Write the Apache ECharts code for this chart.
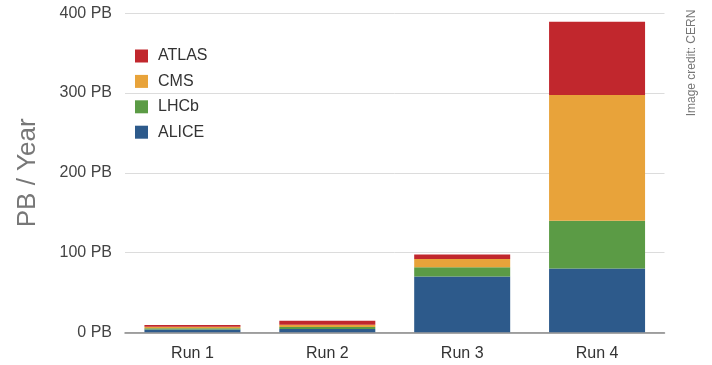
<!DOCTYPE html>
<html>
<head>
<meta charset="utf-8">
<script src="https://cdn.jsdelivr.net/npm/echarts@6/dist/echarts.min.js"></script>
<style>
html,body{margin:0;padding:0;background:#fff;}
#c{width:712px;height:365px;}
</style>
</head>
<body>
<div id="c"></div>
<script>
const categories = ['Run 1', 'Run 2', 'Run 3', 'Run 4'];
const alice = [3.5, 4, 70, 80];
const lhcb = [1.5, 2.5, 11.5, 60];
const cms = [2, 3, 10.5, 157.5];
const atlas = [2, 5, 5.5, 92];
const yTicks = [0, 100, 200, 300, 400];

const FONT = 'Liberation Sans';
const chart = echarts.init(document.getElementById('c'), null, {renderer: 'canvas'});
function bar(name, data, color) {
  return {name, type: 'bar', stack: 'total', data, barWidth: 96,
    itemStyle: {color}, emphasis: {disabled: true}};
}
chart.setOption({
  animation: false,
  backgroundColor: '#ffffff',
  textStyle: {fontFamily: FONT},
  grid: {left: 125, right: 47.5, top: 13.3, bottom: 32.7, containLabel: false},
  legend: {
    orient: 'vertical', left: 130, top: 43,
    data: ['ATLAS', 'CMS', 'LHCb', 'ALICE'],
    icon: 'rect', itemWidth: 13, itemHeight: 13, itemGap: 9.4,
    textStyle: {fontFamily: FONT, fontSize: 16, color: '#333', padding: [0, 0, 0, 5]},
    selectedMode: false
  },
  xAxis: {
    type: 'category', data: categories,
    axisTick: {show: false},
    axisLine: {lineStyle: {color: '#888', width: 1.5}},
    axisLabel: {fontFamily: FONT, fontSize: 16, color: '#333', margin: 13}
  },
  yAxis: {
    type: 'value', min: yTicks[0], max: yTicks[yTicks.length - 1], interval: 100,
    name: 'PB / Year', nameLocation: 'middle', nameGap: 84,
    nameTextStyle: {fontFamily: FONT, fontSize: 26, color: '#777'},
    axisLine: {show: false}, axisTick: {show: false},
    axisLabel: {fontFamily: FONT, fontSize: 16, color: '#444', margin: 13, formatter: '{value} PB'},
    splitLine: {lineStyle: {color: '#dcdcdc', width: 1}}
  },
  graphic: [{
    type: 'text', x: 692, y: 63, rotation: Math.PI / 2,
    style: {text: 'Image credit: CERN', fontFamily: FONT, fontSize: 12, fill: '#777',
      textAlign: 'center', textVerticalAlign: 'middle'}
  }],
  series: [
    bar('ALICE', alice, '#2d5a8b'),
    bar('LHCb', lhcb, '#5b9b45'),
    bar('CMS', cms, '#e8a33a'),
    bar('ATLAS', atlas, '#c1272d')
  ]
});
</script>
</body>
</html>
